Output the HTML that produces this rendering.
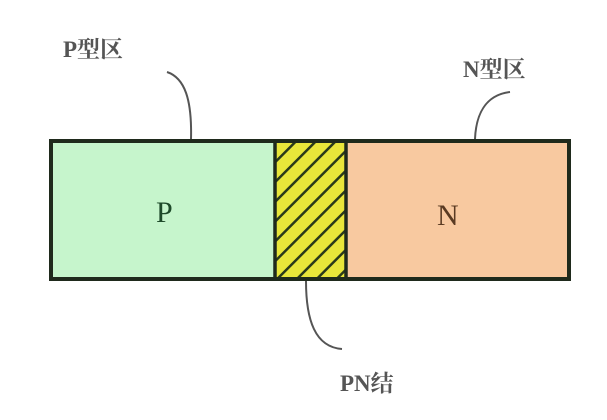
<!DOCTYPE html>
<html><head><meta charset="utf-8"><style>
html,body{margin:0;padding:0;background:#fff;}
body{width:607px;height:415px;overflow:hidden;}
</style></head><body>
<svg width="607" height="415" xmlns="http://www.w3.org/2000/svg">
<defs>
<pattern id="h" width="14" height="14" patternUnits="userSpaceOnUse" patternTransform="rotate(45)">
<rect width="14" height="14" fill="#e8e63a"/>
<rect x="0" y="0" width="2.5" height="14" fill="#2a3a1a"/>
</pattern>
</defs>
<rect x="51" y="141" width="224" height="138" fill="#c6f5cc"/>
<rect x="275" y="141" width="71" height="138" fill="url(#h)"/>
<rect x="346" y="141" width="223" height="138" fill="#f8c9a0"/>
<rect x="51" y="141" width="518" height="138" fill="none" stroke="#1f2a1c" stroke-width="4"/>
<line x1="275" y1="141" x2="275" y2="279" stroke="#1f2a1c" stroke-width="3.5"/>
<line x1="346" y1="141" x2="346" y2="279" stroke="#1f2a1c" stroke-width="3.5"/>
<path d="M167 72 C185 78 192 100 191 139" fill="none" stroke="#555" stroke-width="2"/>
<path d="M510 92 C485 95 476 115 475 139" fill="none" stroke="#555" stroke-width="2"/>
<path d="M306 281 C306 320 315 347 342 349" fill="none" stroke="#555" stroke-width="2"/>
<g font-family="'Liberation Serif','Noto Serif CJK SC',serif" fill="#555" font-size="23" font-weight="bold">
<text x="63" y="57">P型区</text>
<text x="463" y="77">N型区</text>
<text x="340" y="391">PN结</text>
</g>
<g font-family="'Liberation Serif',serif" font-size="30">
<text x="156" y="222" fill="#1e4a2a">P</text>
<text x="437" y="225" fill="#5a3a22">N</text>
</g>
</svg>
</body></html>
